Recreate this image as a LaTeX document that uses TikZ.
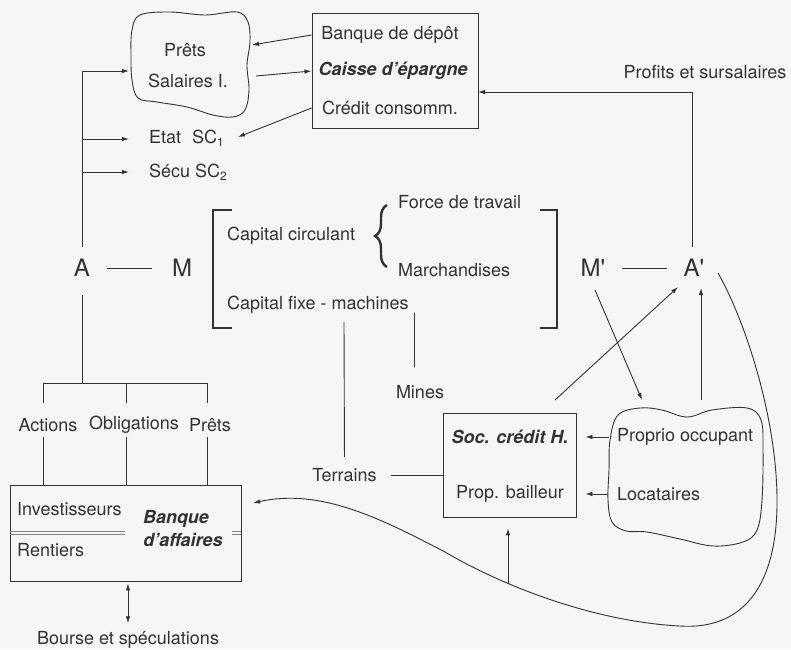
\documentclass[tikz,border=0pt]{standalone}
\usepackage{fontspec}
\setmainfont{TeX Gyre Heros}
\usetikzlibrary{arrows.meta,decorations.pathreplacing}
\definecolor{ink}{RGB}{50,50,50}
\definecolor{paper}{RGB}{246,246,244}
\begin{document}
\begin{tikzpicture}[x=1pt,y=-1pt,
  txt/.style={font=\fontsize{18}{20}\selectfont, text=ink, inner sep=1pt},
  bi/.style={font=\fontsize{18}{20}\selectfont\bfseries\itshape, text=ink, inner sep=1pt},
  big/.style={font=\fontsize{24}{26}\selectfont, text=ink, inner sep=0pt},
  ln/.style={draw=ink, line width=0.9pt},
  arr/.style={ln, -{Latex[length=7pt,width=4.5pt]}},
  box/.style={draw=ink, line width=0.9pt, inner sep=0pt},
  dbl/.style={draw=ink!60, line width=0.9pt},
]
\fill[paper] (0,0) rectangle (791,649);
\useasboundingbox (0,0) rectangle (791,649);

% ---- top boxes
\node[box, minimum width=166pt, minimum height=115pt] (bdep) at (395,70.5) {};
\node[txt] (tdep) at (390,35) {Banque de dépôt};
\node[bi]  (tcai) at (393,71) {Caisse d'épargne};
\node[txt] (tcre) at (390,108) {Crédit consomm.};

\draw[ln] plot[smooth cycle, tension=0.6] coordinates {(132,30) (140,15) (170,12) (205,15) (237,12) (248,22) (250,42) (247,65) (249,90) (245,110) (233,117) (213,115) (187,107) (157,102) (138,98) (132,80) (131,55)};
\node[txt] (prets) at (185,50) {Prêts};
\node[txt] (sal) at (188,81) {Salaires I.};
\coordinate (pretsW) at (129,71);
\coordinate (pretsE1) at (252,45);
\coordinate (pretsE2) at (256,76);

\node[txt, anchor=west] (etat) at (148,138) {Etat\hspace{0.6em}SC\raisebox{-0.35ex}{\fontsize{12}{12}\selectfont 1}};
\node[txt, anchor=west] (secu) at (148,172) {Sécu SC\raisebox{-0.35ex}{\fontsize{12}{12}\selectfont 2}};
\coordinate (etatE) at (238,137);
\coordinate (etatIn) at (129,139);
\coordinate (secuIn) at (129,172);
\coordinate (b1) at (82,139);
\coordinate (b2) at (82,172);

\draw[arr] (bdep.west |- tdep) -- (pretsE1);
\draw[arr] (pretsE2) -- (bdep.west |- tcai);
\draw[arr] (bdep.west |- tcre) -- (etatE);

% ---- A -- M
\node[big] (A) at (82,268) {A};
\node[big] (M) at (182,268) {M};
\draw[ln, shorten <=17pt, shorten >=20pt] (A.east) -- (M.west);
\draw[arr, shorten <=12pt] (A.north) |- (pretsW);
\draw[arr] (b1) -- (etatIn);
\draw[arr] (b2) -- (secuIn);

% ---- below A
\coordinate (hub) at (82,383);
\coordinate (hubL) at (43,383);
\coordinate (hubC) at (126,383);
\coordinate (hubR) at (207,383);
\draw[ln, shorten <=18pt] (A.south) -- (hub);
\draw[ln] (hubL) -- (hubR);
\draw[ln] (hubL) -- ++(0,20);
\draw[ln] (hubC) -- ++(0,20);
\draw[ln] (hubR) -- ++(0,20);
\node[txt] (act) at (48,425) {Actions};
\node[txt] (obl) at (134,425) {Obligations};
\node[txt] (pr2) at (210,425) {Prêts};

\node[box, minimum width=231pt, minimum height=96pt] (baff) at (125.5,533) {};
\draw[ln] (43,437) -- (43,485);
\draw[ln] (126,437) -- (126,485);
\draw[ln] (207,437) -- (207,485);
\node[txt, anchor=west] (inv) at (16,509) {Investisseurs};
\node[txt, anchor=west] (ren) at (16,550) {Rentiers};
\node[bi] (bq) at (176,519) {Banque};
\node[bi] (daf) at (183,540) {d'affaires};
\draw[dbl] (10,531) -- (125,531);
\draw[dbl] (10,534.5) -- (125,534.5);
\draw[dbl] (232,531) -- (241,531);
\draw[dbl] (232,534.5) -- (241,534.5);

\node[txt] (bourse) at (128,640) {Bourse et spéculations};
\draw[ln, {Latex[length=7pt,width=4.5pt]}-{Latex[length=7pt,width=4.5pt]}, shorten <=2pt, shorten >=7pt] (baff.south -| bourse) -- (bourse.north);

% ---- middle bracket
\draw[ln, line width=1.2pt] (232,210) -- (213,210) -- (213,328) -- (232,328);
\draw[ln, line width=1.2pt] (540,210) -- (557,210) -- (557,328) -- (540,328);
\node[txt, anchor=west] (cc) at (226,236) {Capital circulant};
\draw[ink, line width=2.4pt, decorate, decoration={brace, amplitude=12pt}] (387,267) -- (387,205);
\node[txt, anchor=west] (fdt) at (397,202) {Force de travail};
\node[txt, anchor=west] (mar) at (397,270) {Marchandises};
\node[txt, anchor=west] (cfm) at (226,305) {Capital fixe - machines};

\node[txt] (terr) at (344.5,475) {Terrains};
\node[txt] (mines) at (420,392) {Mines};
\coordinate (cfmL) at (344,322);
\coordinate (cfmR) at (414,313);
\draw[ln, shorten >=10pt] (cfmL) -- (terr.north);
\draw[ln, shorten >=17pt] (cfmR) -- (cfmR |- mines.north);

% ---- Soc credit box
\node[box, minimum width=133pt, minimum height=104pt] (soc) at (509.5,465) {};
\node[bi] (tsoc) at (510,437) {Soc. crédit H.};
\node[txt] (tpb) at (510,494) {Prop. bailleur};
\draw[ln, shorten <=13pt] (terr.east) -- (soc.west |- terr);

% ---- Proprio blob
\draw[ln] plot[smooth cycle, tension=0.6] coordinates {(618,415) (640,408) (662,410) (687,417) (712,410) (747,408) (761,420) (763,450) (762,500) (757,530) (743,542) (713,546) (680,539) (647,532) (626,531) (612,522) (608,500) (609,470) (610,440)};
\node[txt, anchor=west] (po) at (616,437) {Proprio occupant};
\node[txt, anchor=west] (loc) at (616,494) {Locataires};
\coordinate (poL) at (609,437);
\coordinate (locL) at (608,494);
\draw[arr, shorten >=9pt] (poL) -- (soc.east |- poL);
\draw[arr, shorten >=9pt] (locL) -- (soc.east |- locL);

% ---- M' -- A'
\node[big] (Mp) at (593,268) {M\textquotesingle};
\node[big] (Ap) at (694,268) {A\textquotesingle};
\draw[ln, shorten <=17pt, shorten >=17pt] (Mp.east) -- (Ap.west);

\coordinate (apTop) at (692,247);
\coordinate (caisIn) at (478,92);
\draw[arr] (apTop) |- (caisIn);
\node[txt] (prof) at (705,72) {Profits et sursalaires};

\coordinate (socTop) at (555,400);
\coordinate (apIn1) at (678,287);
\coordinate (blobTop) at (701,400);
\coordinate (apIn2) at (701,288);
\coordinate (mpOut) at (595,290);
\coordinate (blobIn) at (642,400);
\draw[arr] (socTop) -- (apIn1);
\draw[arr] (blobTop) -- (apIn2);
\draw[arr] (mpOut) -- (blobIn);

% ---- big curve
\coordinate (cs) at (718,273);
\coordinate (c1) at (777,505);
\coordinate (c2) at (680,626);
\coordinate (c3) at (445,552);
\coordinate (baffIn) at (253,503);
\draw[arr] (cs) .. controls (745,320) and (778,420) .. (c1)
  .. controls (776,590) and (740,630) .. (c2)
  .. controls (600,622) and (510,590) .. (c3)
  .. controls (380,518) and (320,488) .. (baffIn);
\coordinate (cv) at (508,584);
\draw[arr, shorten >=11pt] (cv) -- (soc.south -| cv);
\end{tikzpicture}
\end{document}
